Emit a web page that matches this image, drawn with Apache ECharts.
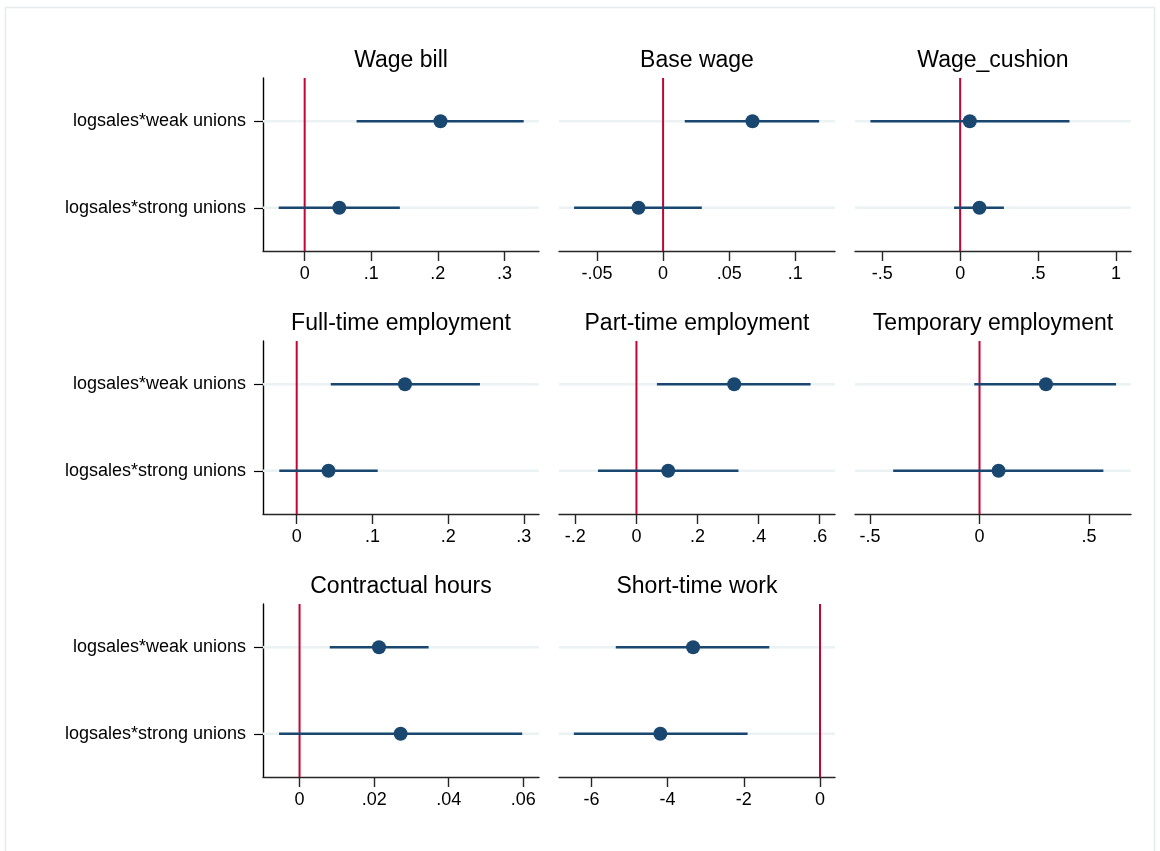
<!DOCTYPE html>
<html>
<head>
<meta charset="utf-8">
<title>Coefficient plot</title>
<script src="https://cdn.jsdelivr.net/npm/echarts@6/dist/echarts.min.js"></script>
<style>
  html, body { margin: 0; padding: 0; background: #ffffff; }
  #chart { width: 1160px; height: 851px; }
</style>
</head>
<body>
<div id="chart"></div>
<script>
// Outcome panels, in reading order
const panelTitles = [
  'Wage bill', 'Base wage', 'Wage_cushion',
  'Full-time employment', 'Part-time employment', 'Temporary employment',
  'Contractual hours', 'Short-time work'
];

// Regressors shown on the vertical axis (top to bottom)
const categories = ['logsales*weak unions', 'logsales*strong unions'];

// Point estimates and confidence bounds, one entry per panel
const estWeak   = [0.204, 0.0676, 0.062, 0.143, 0.320, 0.303, 0.0213, -3.33];
const loWeak    = [0.078, 0.0164, -0.576, 0.045, 0.067, -0.024, 0.0081, -5.36];
const hiWeak    = [0.329, 0.118, 0.702, 0.242, 0.570, 0.623, 0.0346, -1.33];

const estStrong = [0.052, -0.0186, 0.124, 0.042, 0.104, 0.087, 0.0271, -4.19];
const loStrong  = [-0.039, -0.0673, -0.039, -0.023, -0.126, -0.394, -0.0055, -6.46];
const hiStrong  = [0.143, 0.0293, 0.281, 0.107, 0.334, 0.565, 0.0597, -1.90];

// Horizontal axis tick labels per panel
const tickValues = [
  [0, 0.1, 0.2, 0.3],
  [-0.05, 0, 0.05, 0.1],
  [-0.5, 0, 0.5, 1],
  [0, 0.1, 0.2, 0.3],
  [-0.2, 0, 0.2, 0.4, 0.6],
  [-0.5, 0, 0.5],
  [0, 0.02, 0.04, 0.06],
  [-6, -4, -2, 0]
];

// Horizontal axis extent per panel
const axisExtent = [
  [-0.0626, 0.352],
  [-0.0787, 0.130],
  [-0.675, 1.097],
  [-0.0445, 0.320],
  [-0.2535, 0.650],
  [-0.568, 0.691],
  [-0.0098, 0.0642],
  [-6.85, 0.394]
];

const refLine = 0;

// ---- layout and styling ----
const FONT = '"Liberation Sans", Arial, Helvetica, sans-serif';
const NAVY = '#1a476f';
const RED = '#c10534';
const GRID_LINE = '#eaf2f3';
const colLeft = [263, 559, 855];
const colWidth = 276;
const rowTop = [78, 341, 604];
const rowHeight = 173;

function stataNum(v) {
  // Stata-style labels: drop the leading zero (".1", "-.05")
  return String(v).replace(/^(-?)0\./, '$1.');
}

const grids = [], xAxes = [], yAxes = [], series = [], graphics = [];

panelTitles.forEach((title, i) => {
  const col = i % 3, row = Math.floor(i / 3);
  const firstCol = col === 0;

  grids.push({
    left: colLeft[col], top: rowTop[row],
    width: colWidth, height: rowHeight,
    containLabel: false
  });

  xAxes.push({
    gridIndex: i, type: 'value', position: 'bottom',
    min: axisExtent[i][0], max: axisExtent[i][1],
    axisLine: { show: true, onZero: false, lineStyle: { color: '#262626', width: 1.4 } },
    axisTick: { show: true, inside: false, length: 10, customValues: tickValues[i], lineStyle: { color: '#262626', width: 1.4 } },
    axisLabel: {
      customValues: tickValues[i], formatter: stataNum,
      color: '#000', fontSize: 18, fontFamily: FONT, margin: 14
    },
    splitLine: { show: false }
  });

  yAxes.push({
    gridIndex: i, type: 'category', data: categories, inverse: true,
    position: 'left', boundaryGap: true,
    axisLine: { show: firstCol, onZero: false, lineStyle: { color: '#000', width: 1.4 } },
    axisTick: { show: firstCol, alignWithLabel: true, length: 9, lineStyle: { color: '#000', width: 1.2 } },
    axisLabel: { show: firstCol, color: '#000', fontSize: 18, fontFamily: FONT, margin: 17 },
    splitLine: { show: false }
  });

  // light horizontal guide at each regressor
  series.push({
    type: 'custom', xAxisIndex: i, yAxisIndex: i, z: 1, silent: true,
    data: categories.map((c, k) => [axisExtent[i][0], k]),
    renderItem: (params, api) => {
      const cs = params.coordSys;
      const y = api.coord([api.value(0), api.value(1)])[1];
      return {
        type: 'line',
        shape: { x1: cs.x, y1: y, x2: cs.x + cs.width, y2: y },
        style: { stroke: GRID_LINE, lineWidth: 2.5 }
      };
    }
  });

  // vertical reference line at zero
  series.push({
    type: 'custom', xAxisIndex: i, yAxisIndex: i, z: 2, silent: true,
    data: [[refLine, 0]],
    renderItem: (params, api) => {
      const cs = params.coordSys;
      const x = api.coord([api.value(0), api.value(1)])[0];
      return {
        type: 'line',
        shape: { x1: x, y1: cs.y, x2: x, y2: cs.y + cs.height },
        style: { stroke: RED, lineWidth: 2 }
      };
    }
  });

  // confidence intervals
  series.push({
    type: 'custom', xAxisIndex: i, yAxisIndex: i, z: 3, silent: true,
    data: [[loWeak[i], hiWeak[i], 0], [loStrong[i], hiStrong[i], 1]],
    encode: { x: [0, 1], y: 2 },
    renderItem: (params, api) => {
      const a = api.coord([api.value(0), api.value(2)]);
      const b = api.coord([api.value(1), api.value(2)]);
      return {
        type: 'line',
        shape: { x1: a[0], y1: a[1], x2: b[0], y2: b[1] },
        style: { stroke: NAVY, lineWidth: 2.5 }
      };
    }
  });

  // point estimates
  series.push({
    type: 'scatter', xAxisIndex: i, yAxisIndex: i, z: 4, silent: true,
    symbol: 'circle', symbolSize: 14,
    itemStyle: { color: NAVY, opacity: 1 },
    data: [[estWeak[i], 0], [estStrong[i], 1]]
  });

  graphics.push({
    type: 'text',
    x: colLeft[col] + colWidth / 2,
    y: rowTop[row] - 17,
    style: {
      text: title, fill: '#000', font: '23px ' + FONT,
      textAlign: 'center', textVerticalAlign: 'middle'
    }
  });
});

// thin outer frame
graphics.unshift({
  type: 'rect', silent: true,
  shape: { x: 5.5, y: 7.5, width: 1149, height: 860 },
  style: { fill: 'none', stroke: '#e6ecee', lineWidth: 1.5 }
});

const chart = echarts.init(document.getElementById('chart'), null, { renderer: 'canvas' });
chart.setOption({
  backgroundColor: '#ffffff',
  animation: false,
  textStyle: { fontFamily: FONT },
  grid: grids,
  xAxis: xAxes,
  yAxis: yAxes,
  series: series,
  graphic: graphics
});
</script>
</body>
</html>
